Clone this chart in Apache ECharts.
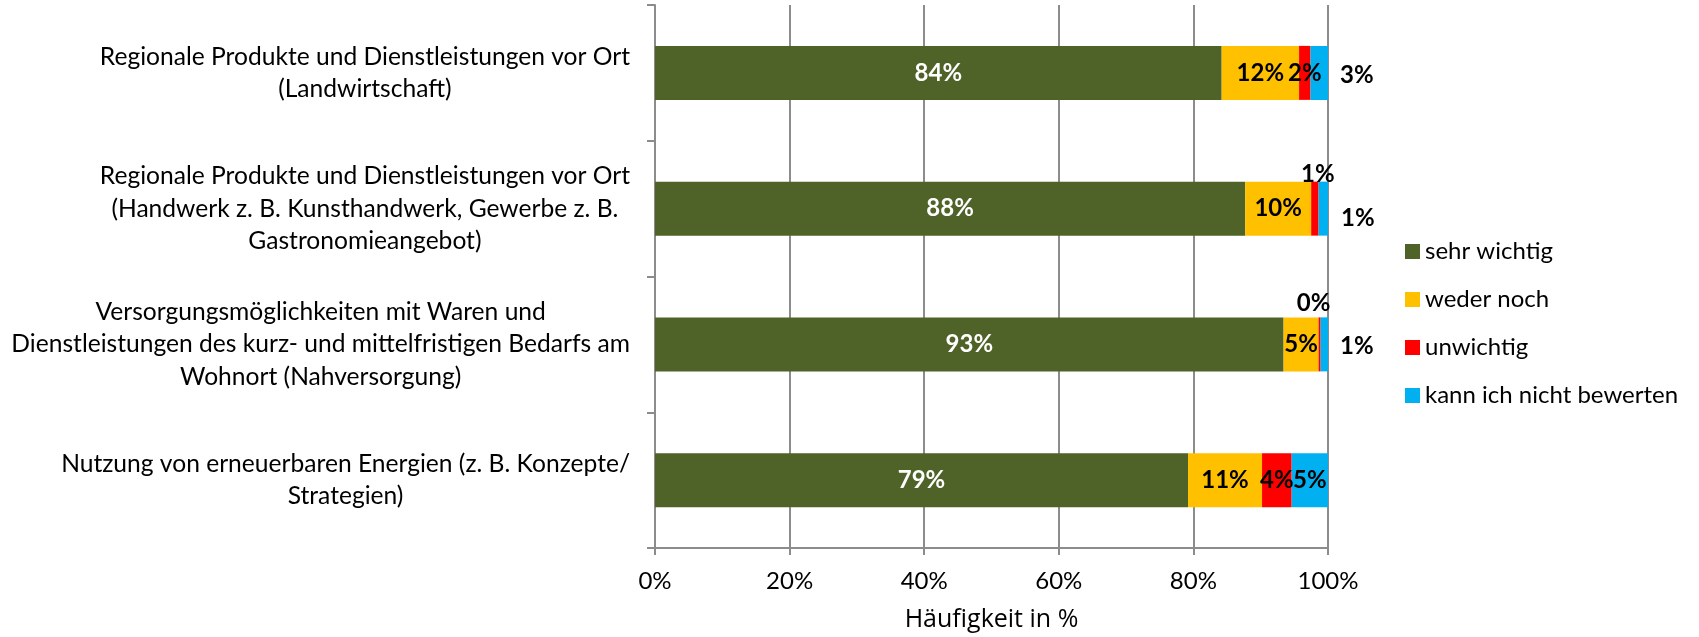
<!DOCTYPE html>
<html>
<head>
<meta charset="utf-8">
<script src="https://cdn.jsdelivr.net/npm/echarts@6/dist/echarts.min.js"></script>
<style>
  html, body { margin: 0; padding: 0; background: #fff; }
  #chart { width: 1699px; height: 637px; }
</style>
</head>
<body>
<div id="chart"></div>
<script>
// categories, top to bottom
const categories = [
  'Regionale Produkte und Dienstleistungen vor Ort\n(Landwirtschaft)',
  'Regionale Produkte und Dienstleistungen vor Ort\n(Handwerk z. B. Kunsthandwerk, Gewerbe z. B.\nGastronomieangebot)',
  'Versorgungsmöglichkeiten mit Waren und\nDienstleistungen des kurz- und mittelfristigen Bedarfs am\nWohnort (Nahversorgung)',
  'Nutzung von erneuerbaren Energien (z. B. Konzepte/\nStrategien)'
];
const seriesNames = ['sehr wichtig', 'weder noch', 'unwichtig', 'kann ich nicht bewerten'];
const sehrWichtig = [84.2, 87.7, 93.4, 79.2];
const wederNoch = [11.5, 9.8, 5.2, 11.0];
const unwichtig = [1.7, 1.1, 0.3, 4.4];
const nichtBewerten = [2.6, 1.4, 1.1, 5.4];
const xTicks = [0, 20, 40, 60, 80, 100];

const colors = ['#4F6228', '#FFC000', '#FF0000', '#00B0F0'];
const FONT = 'Lato';
const LABEL_SIZE = 24;
const CAT_SIZE = 24.6;

// label tweaks for the small segments (by series, by row)
const labelTweaks = {
  2: {
    1: { position: 'top', distance: -5, offset: [3, 0] },
    2: { position: 'top', distance: 2, offset: [-6, 0] }
  },
  3: {
    0: { position: 'right', distance: 12, offset: [0, 2] },
    1: { position: 'right', distance: 13, offset: [0, 10] },
    2: { position: 'right', distance: 12, offset: [0, 2] }
  }
};

const allValues = [sehrWichtig, wederNoch, unwichtig, nichtBewerten];

const series = allValues.map((vals, si) => ({
  name: seriesNames[si],
  type: 'bar',
  stack: 'total',
  barWidth: 54,
  itemStyle: { color: colors[si] },
  label: {
    show: true,
    position: 'inside',
    fontFamily: FONT,
    fontWeight: 'bold',
    fontSize: LABEL_SIZE,
    color: si === 0 ? '#ffffff' : '#000000',
    formatter: p => Math.round(p.value) + '%'
  },
  data: vals.map((v, ri) => {
    const t = labelTweaks[si] && labelTweaks[si][ri];
    return t ? { value: v, label: t } : v;
  })
}));

const chart = echarts.init(document.getElementById('chart'));
chart.setOption({
  animation: false,
  grid: { left: 655, right: 371, top: 5, bottom: 88 },
  legend: {
    orient: 'vertical',
    left: 1400,
    top: 233,
    itemWidth: 15,
    itemHeight: 15,
    itemGap: 21,
    icon: 'rect',
    textStyle: { fontFamily: FONT, fontSize: 24, color: '#000', lineHeight: 27 },
    data: seriesNames
  },
  xAxis: {
    type: 'value',
    min: xTicks[0],
    max: xTicks[xTicks.length - 1],
    interval: 20,
    name: 'Häufigkeit in %',
    nameLocation: 'middle',
    nameGap: 59,
    nameTextStyle: { fontFamily: 'Open Sans', fontSize: 25, color: '#000' },
    axisLine: { show: true, lineStyle: { color: '#8c8c8c', width: 2 } },
    axisTick: { show: true, length: 7, lineStyle: { color: '#8c8c8c', width: 2 } },
    splitLine: { show: true, lineStyle: { color: '#8c8c8c', width: 2 } },
    axisLabel: {
      fontFamily: FONT, fontSize: 24, color: '#000', margin: 21,
      formatter: v => v + '%'
    }
  },
  yAxis: {
    type: 'category',
    inverse: true,
    data: categories,
    axisLine: { show: true, lineStyle: { color: '#8c8c8c', width: 2 } },
    axisTick: { show: true, length: 8, lineStyle: { color: '#8c8c8c', width: 2 } },
    axisLabel: {
      margin: 25,
      align: 'right',
      fontFamily: FONT,
      fontSize: CAT_SIZE,
      color: '#000',
      lineHeight: 32.5,
      formatter: v => v.split('\n').map(l => '{c|' + l + '}').join('\n'),
      rich: {
        c: { align: 'center', fontFamily: FONT, fontSize: CAT_SIZE, color: '#000', lineHeight: 32.5 }
      }
    }
  },
  series: series
});
</script>
</body>
</html>
